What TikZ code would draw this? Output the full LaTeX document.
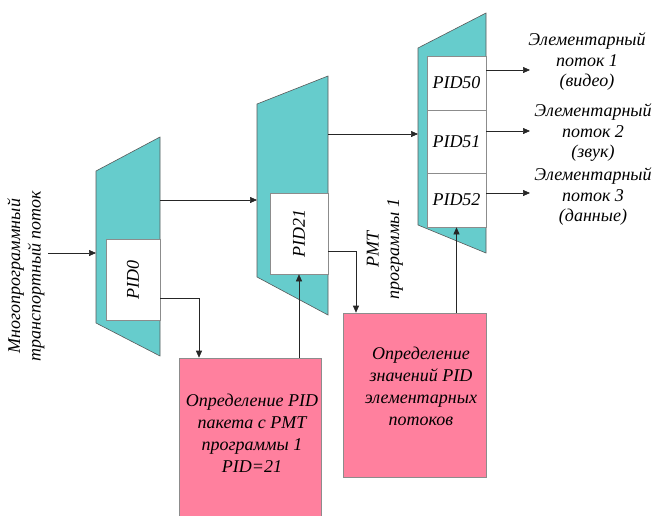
\documentclass[tikz,border=0pt]{standalone}
\usepackage{fontspec}
\setmainfont{Liberation Serif}
\usetikzlibrary{arrows.meta}
\definecolor{demuxfill}{RGB}{102,204,204}
\definecolor{blockfill}{RGB}{255,128,158}
\begin{document}
\begin{tikzpicture}[x=1pt,y=-1pt,
  demux/.style={fill=demuxfill, draw=black!65, line width=0.6pt},
  pidbox/.style={draw=black!45, fill=white, line width=0.6pt, inner sep=0pt},
  pinkbox/.style={draw=black!45, fill=blockfill, line width=0.6pt, inner sep=0pt},
  lbl/.style={font=\itshape\fontsize{18}{20.5}\selectfont, align=center, inner sep=0pt},
  blocktext/.style={lbl, font=\itshape\fontsize{18}{22}\selectfont},
  conn/.style={draw=black!85, line width=0.6pt, -{Triangle[length=7pt,width=6pt]}}
]
\useasboundingbox (0,0) rectangle (654,515);

% demultiplexers
\draw[demux] (96,171) -- (160,137) -- (160,356) -- (96,323) -- cycle;
\draw[demux] (257,104) -- (328,76) -- (328,315) -- (257,277) -- cycle;
\draw[demux] (418,48) -- (486,13) -- (486,253) -- (418,225) -- cycle;

% PID filters
\node[pidbox, minimum width=54, minimum height=81] (pid0) at (133,279.5) {};
\node[lbl, rotate=90] at (pid0) {PID0};
\node[pidbox, minimum width=58, minimum height=81] (pid21) at (299,233.5) {};
\node[lbl, rotate=90] at (pid21) {PID21};
\node[pidbox, minimum width=59, minimum height=54] (pid50) at (456.5,83) {};
\node[pidbox, minimum width=59, minimum height=63] (pid51) at (456.5,141.5) {};
\node[pidbox, minimum width=59, minimum height=54] (pid52) at (456.5,200) {};
\node[lbl] at (pid50) {PID50};
\node[lbl] at (pid51) {PID51};
\node[lbl] at (pid52) {PID52};

% processing blocks
\node[pinkbox, minimum width=142, minimum height=172] (pat) at (250,444) {};
\node[blocktext] at (252,433) {Определение PID\\пакета с PMT\\программы 1\\PID=21};
\node[pinkbox, minimum width=143, minimum height=164] (pmt) at (414.5,395) {};
\node[blocktext] at (421,386) {Определение\\значений PID\\элементарных\\потоков};

% input stream
\coordinate (in) at (48,253);
\coordinate (d1in) at (96,253);
\draw[conn] (in) -- (d1in);
\node[lbl, rotate=90] at (26,276) {Многопрограммный\\транспортный поток};

% transport stream between demultiplexers
\coordinate (d1out) at (160,200);
\coordinate (d2in) at (257,200);
\draw[conn] (d1out) -- (d2in);
\coordinate (d2out) at (328,134);
\coordinate (d3in) at (418,134);
\draw[conn] (d2out) -- (d3in);

% table feedback paths
\draw[conn] (pid0.east |- 0,298) -| (pat.north -| 199,0);
\draw[conn] (pat.north -| pid21.south) -- (pid21.south);
\draw[conn] (pid21.east |- 0,251) -| (pmt.north -| 356,0);
\draw[conn] (pmt.north -| pid52.south) -- (pid52.south);
\node[lbl, rotate=90] at (385,249) {PMT\\программы 1};

% elementary streams
\coordinate (o1) at (530,70);
\coordinate (o2) at (530,131);
\coordinate (o3) at (530,193);
\draw[conn] (pid50.east |- o1) -- (o1);
\draw[conn] (pid51.east |- o2) -- (o2);
\draw[conn] (pid52.east |- o3) -- (o3);
\node[lbl] at (587,62) {Элементарный\\поток 1\\(видео)};
\node[lbl] at (593,133) {Элементарный\\поток 2\\(звук)};
\node[lbl] at (593,197) {Элементарный\\поток 3\\(данные)};
\end{tikzpicture}
\end{document}
